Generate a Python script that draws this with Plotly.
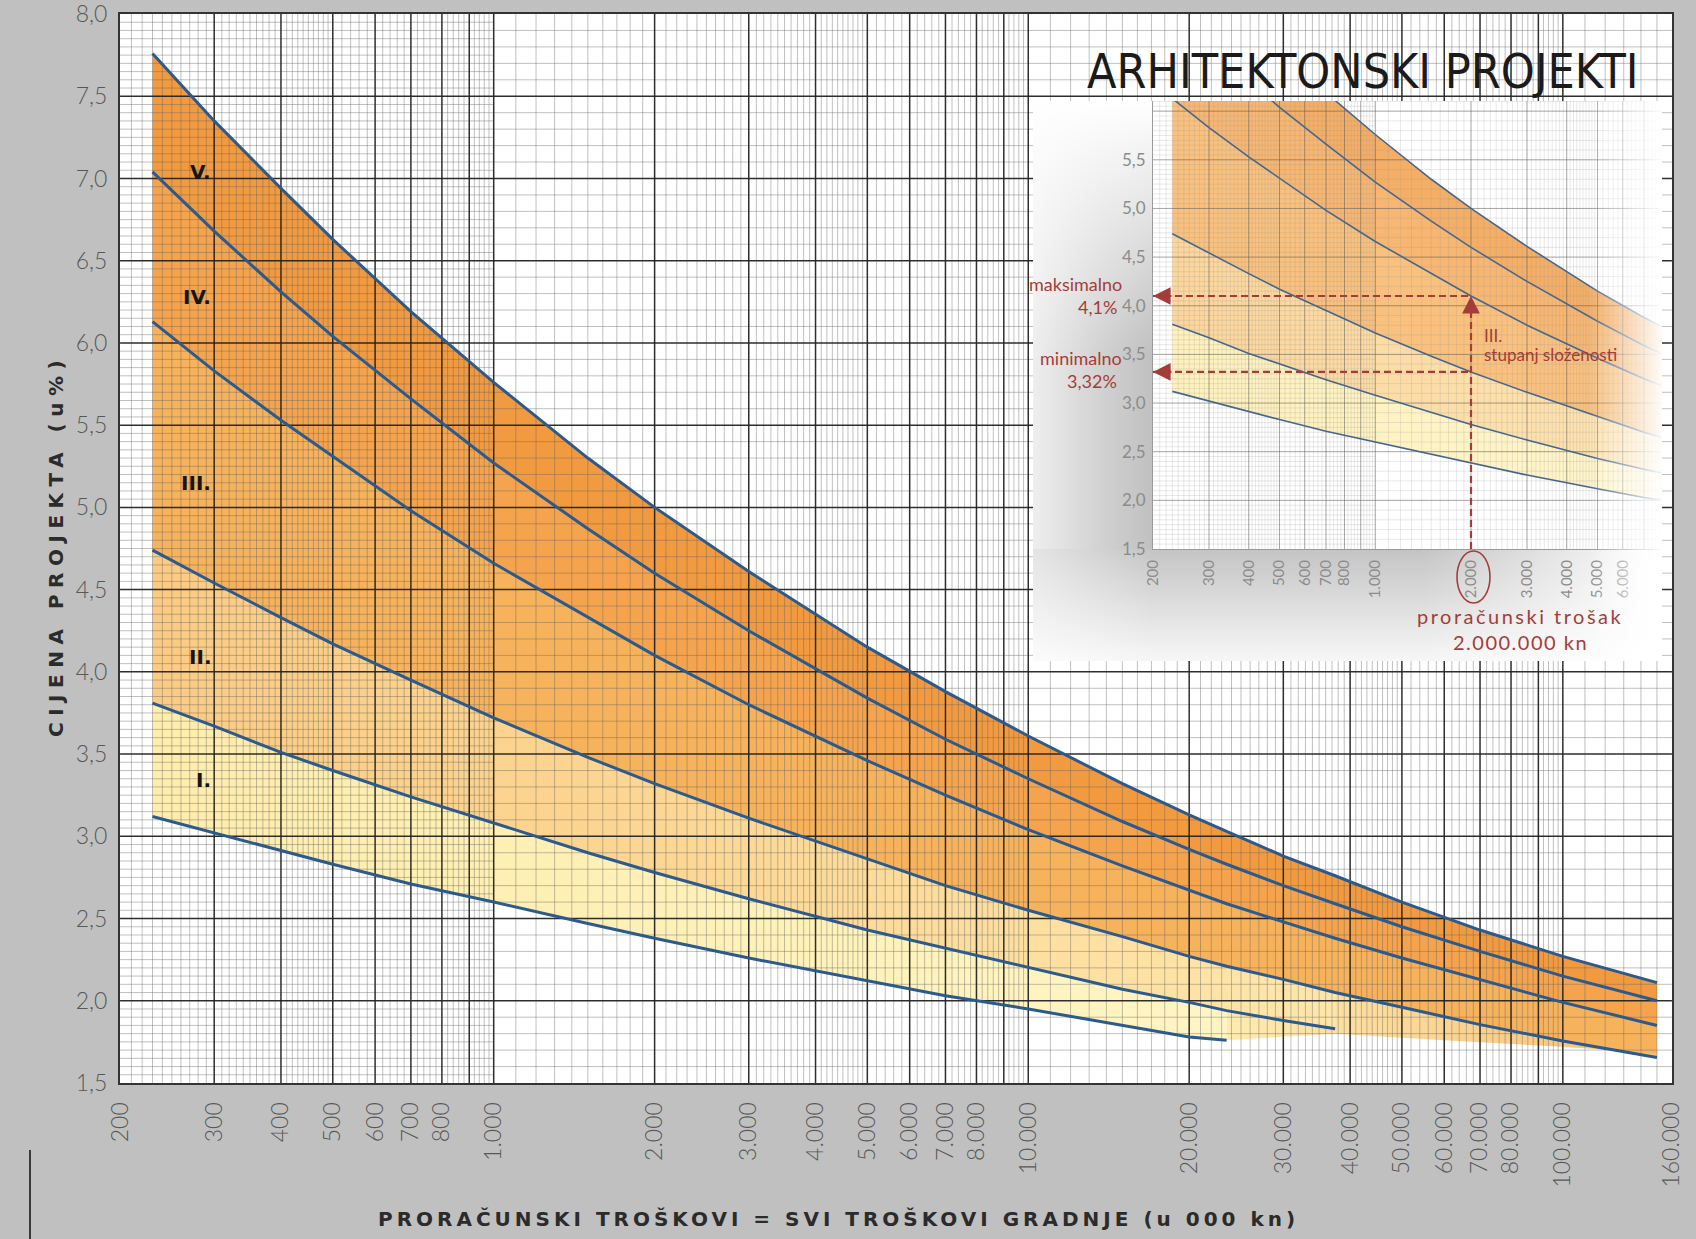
import math
import plotly.graph_objects as go

# ---------------- data ----------------
cost_k = [230, 300, 400, 500, 700, 1000, 1500, 2000, 3000, 5000, 7000, 10000,
          15000, 20000, 23500, 30000, 37500, 50000, 70000, 100000, 150000]
# upper limit of degree V
line_v_max = [7.76, 7.35, 6.94, 6.63, 6.19, 5.76, 5.30, 5.00, 4.61, 4.15, 3.88, 3.61,
              3.32, 3.13, 3.03, 2.88, 2.76, 2.60, 2.43, 2.27, 2.11]
# IV / V boundary
line_iv_max = [7.04, 6.68, 6.31, 6.04, 5.66, 5.27, 4.87, 4.60, 4.25, 3.84, 3.59, 3.35,
               3.09, 2.92, 2.83, 2.70, 2.59, 2.45, 2.30, 2.15, 2.00]
# III / IV boundary
line_iii_max = [6.13, 5.83, 5.53, 5.31, 4.98, 4.66, 4.33, 4.10, 3.80, 3.46, 3.25, 3.04,
                2.82, 2.67, 2.59, 2.48, 2.38, 2.26, 2.13, 1.99, 1.85]
# II / III boundary
line_ii_max = [4.74, 4.54, 4.33, 4.17, 3.95, 3.72, 3.48, 3.32, 3.11, 2.86, 2.70, 2.55,
               2.39, 2.27, 2.21, 2.13, 2.05, 1.96, 1.855, 1.755, 1.655]
# I / II boundary (ends at 37.500)
line_i_max = [3.81, 3.67, 3.51, 3.40, 3.24, 3.08, 2.90, 2.78, 2.62, 2.43, 2.32, 2.20,
              2.07, 1.99, 1.94, 1.88, 1.83]
# lower limit of degree I (ends at 23.500)
line_i_min = [3.12, 3.02, 2.91, 2.83, 2.71, 2.60, 2.47, 2.38, 2.26, 2.12, 2.03, 1.95,
              1.85, 1.78, 1.76]
# lower edge of the coloured area after the lowest line stops
fade_edge_cost = [23500, 37500, 60000, 100000, 150000]
fade_edge_pct = [1.76, 1.80, 1.76, 1.72, 1.68]

band_names = ["V.", "IV.", "III.", "II.", "I."]
band_label_pct = [7.04, 6.28, 5.15, 4.09, 3.34]
band_label_cost = 298

x_tick_vals = [200, 300, 400, 500, 600, 700, 800, 1000, 2000, 3000, 4000, 5000, 6000,
               7000, 8000, 10000, 20000, 30000, 40000, 50000, 60000, 70000, 80000,
               100000, 160000]
x_tick_text = ["200", "300", "400", "500", "600", "700", "800", "1.000", "2.000", "3.000",
               "4.000", "5.000", "6.000", "7.000", "8.000", "10.000", "20.000", "30.000",
               "40.000", "50.000", "60.000", "70.000", "80.000", "100.000", "160.000"]
y_tick_vals = [1.5, 2.0, 2.5, 3.0, 3.5, 4.0, 4.5, 5.0, 5.5, 6.0, 6.5, 7.0, 7.5, 8.0]
y_tick_text = ["1,5", "2,0", "2,5", "3,0", "3,5", "4,0", "4,5", "5,0", "5,5", "6,0",
               "6,5", "7,0", "7,5", "8,0"]

inset_x_tick_vals = [200, 300, 400, 500, 600, 700, 800, 1000, 2000, 3000, 4000, 5000, 6000]
inset_x_tick_text = ["200", "300", "400", "500", "600", "700", "800", "1.000", "2.000",
                     "3.000", "4.000", "5.000", "6.000"]
inset_y_tick_vals = [1.5, 2.0, 2.5, 3.0, 3.5, 4.0, 4.5, 5.0, 5.5]
inset_y_tick_text = ["1,5", "2,0", "2,5", "3,0", "3,5", "4,0", "4,5", "5,0", "5,5"]

example_cost = 2000
example_max = 4.1
example_min = 3.32

# ---------------- geometry ----------------
W, H = 1696, 1239
ML, MR, MT, MB = 120, 24, 14, 156
PW, PH = W - ML - MR, H - MT - MB


def pxx(xp):
    return (xp - ML) / PW


def pxy(yp):
    return (H - MB - yp) / PH


X_MIN, X_MAX = 200, 160000
Y_MIN, Y_MAX = 1.5, 8.0

PANEL_L, PANEL_T, PANEL_R, PANEL_B = 1033, 101, 1662, 661
IN_L, IN_B = 1153, 549
IN_DECADE, IN_UNIT = 318.0, 97.3
IN_XMAX_LOG = math.log10(200) + (PANEL_R - IN_L) / IN_DECADE
IN_YMAX = 1.5 + (IN_B - PANEL_T) / IN_UNIT
FADE_L = 1588

TICK_FONT = "Lato, 'Open Sans', sans-serif"
BOLD_FONT = "'DejaVu Sans', sans-serif"
RED = "#A43D38"

fig = go.Figure()


def seg_trace(segs, color, width, xa, ya):
    xs, ys = [], []
    for (x0, x1, y0, y1) in segs:
        xs += [x0, x1, None]
        ys += [y0, y1, None]
    return go.Scatter(x=xs, y=ys, mode="lines", line=dict(color=color, width=width),
                      hoverinfo="skip", showlegend=False, xaxis=xa, yaxis=ya)


def grid_traces(xlo, xhi, ylo, yhi, xa, ya, major_c, minor_c, major_w, minor_w):
    major, minor = [], []
    for dec in (100, 1000, 10000, 100000):
        for m in range(10, 100):
            if m >= 50 and m % 2:
                continue  # coarser subdivision in the upper half of each decade
            v = dec * m // 10
            if xlo < v < xhi:
                if m % 10 == 0:
                    major.append((v, v, ylo, yhi))
                else:
                    minor.append((v, v, ylo, yhi))
    for h in range(150, 801, 5):
        val = h / 100.0
        if not (ylo < val < yhi):
            continue
        if h % 50 == 0:
            major.append((xlo, xhi, val, val))
        elif h % 10 == 0:
            minor.append((xlo, xhi, val, val))
        else:
            minor.append((xlo, min(1000, xhi), val, val))
    return [seg_trace(minor, minor_c, minor_w, xa, ya),
            seg_trace(major, major_c, major_w, xa, ya)]


def poly(ux, uy, lx, ly):
    return list(ux) + list(lx)[::-1] + [ux[0]], list(uy) + list(ly)[::-1] + [uy[0]]


n_ii = len(line_i_max)
n_i = len(line_i_min)

bands = [
    (poly(cost_k, line_v_max, cost_k, line_iv_max), "#F29A3F", None),
    (poly(cost_k, line_iv_max, cost_k, line_iii_max), "#F5A44D", None),
    (poly(cost_k, line_iii_max, cost_k, line_ii_max), "#F7B25C", None),
    (poly(cost_k[:n_ii], line_ii_max[:n_ii], cost_k[:n_ii], line_i_max), None,
     [[0, "#FBCB83"], [1, "#FEE6AA"]]),
    (poly(cost_k[:n_i], line_i_max[:n_i], cost_k[:n_i], line_i_min), None,
     [[0, "#FEEDAC"], [1, "#FFF5C4"]]),
    (poly(cost_k[n_i - 1:n_ii] + cost_k[n_ii - 1:],
          line_i_max[n_i - 1:n_ii] + line_ii_max[n_ii - 1:],
          fade_edge_cost, fade_edge_pct), None,
     [[0, "#FEEBB0"], [1, "#F8BE76"]]),
]


def add_bands(xa, ya, opacity):
    for (xs, ys), col, grad in bands:
        kw = dict(x=xs, y=ys, mode="lines", fill="toself", line=dict(width=0),
                  opacity=opacity, hoverinfo="skip", showlegend=False, xaxis=xa, yaxis=ya)
        if grad is None:
            kw["fillcolor"] = col
        else:
            kw["fillgradient"] = dict(type="horizontal", colorscale=grad)
        fig.add_trace(go.Scatter(**kw))


def add_lines(xa, ya, color, width):
    series = [(cost_k, line_v_max), (cost_k, line_iv_max), (cost_k, line_iii_max),
              (cost_k, line_ii_max), (cost_k[:n_ii], line_i_max), (cost_k[:n_i], line_i_min)]
    for xs, ys in series:
        fig.add_trace(go.Scatter(x=xs, y=ys, mode="lines", line=dict(color=color, width=width),
                                 hoverinfo="skip", showlegend=False, xaxis=xa, yaxis=ya))


# ---------------- main chart ----------------
add_bands("x", "y", 1.0)
for t in grid_traces(X_MIN, X_MAX, Y_MIN, Y_MAX, "x", "y",
                     "rgba(35,35,35,0.95)", "rgba(100,100,100,0.45)", 1.5, 0.9):
    fig.add_trace(t)
add_lines("x", "y", "#2C5A8C", 3.0)

# ---------------- inset panel (x2/y2: 0..1 box) ----------------
g = (IN_L - PANEL_L) / (PANEL_R - PANEL_L)
b = (PANEL_B - IN_B) / (PANEL_B - PANEL_T)


def rect_trace(x0, x1, y0, y1, xa, ya, color=None, grad=None, gtype="horizontal"):
    kw = dict(x=[x0, x1, x1, x0, x0], y=[y0, y0, y1, y1, y0], mode="lines", fill="toself",
              line=dict(width=0), hoverinfo="skip", showlegend=False, xaxis=xa, yaxis=ya)
    if grad is None:
        kw["fillcolor"] = color
    else:
        kw["fillgradient"] = dict(type=gtype, colorscale=grad)
    return go.Scatter(**kw)


fig.add_trace(rect_trace(0, 1, 0, 1, "x2", "y2", color="white"))
fig.add_trace(rect_trace(0, g, b, 1, "x2", "y2",
                         grad=[[0, "rgb(238,238,238)"], [0.6, "rgb(208,208,208)"],
                               [1, "rgb(192,192,192)"]]))
fig.add_trace(rect_trace(0, g, 0.55, 1, "x2", "y2",
                         grad=[[0, "rgba(255,255,255,0)"], [1, "rgba(255,255,255,1)"]],
                         gtype="vertical"))
fig.add_trace(rect_trace(0, 1, 0, b, "x2", "y2",
                         grad=[[0, "rgb(247,247,247)"], [1, "rgb(196,196,196)"]],
                         gtype="vertical"))
fig.add_trace(rect_trace(0, g, 0, b, "x2", "y2",
                         grad=[[0, "rgba(255,255,255,0.55)"], [1, "rgba(255,255,255,0)"]]))
fig.add_trace(rect_trace(0.62, 1, 0, b, "x2", "y2",
                         grad=[[0, "rgba(255,255,255,0)"], [1, "rgba(255,255,255,1)"]]))

# ---------------- inset chart (x3/y3) ----------------
add_bands("x3", "y3", 0.8)
for t in grid_traces(200, 10 ** IN_XMAX_LOG, 1.5, IN_YMAX, "x3", "y3",
                     "rgba(90,90,90,0.55)", "rgba(150,150,150,0.32)", 1.0, 0.7):
    fig.add_trace(t)
add_lines("x3", "y3", "#46668E", 1.6)

dash = dict(color=RED, width=2.2, dash="7px,4px")
fig.add_trace(go.Scatter(x=[example_cost, example_cost], y=[1.5, example_max], mode="lines",
                         line=dash, hoverinfo="skip", showlegend=False, xaxis="x3", yaxis="y3"))
fig.add_trace(go.Scatter(x=[200, example_cost], y=[example_max, example_max], mode="lines",
                         line=dash, hoverinfo="skip", showlegend=False, xaxis="x3", yaxis="y3"))
fig.add_trace(go.Scatter(x=[200, example_cost], y=[example_min, example_min], mode="lines",
                         line=dash, hoverinfo="skip", showlegend=False, xaxis="x3", yaxis="y3"))

# ---------------- right fade of the inset (x4/y4) ----------------
fig.add_trace(rect_trace(0, 1, 0, 1, "x4", "y4",
                         grad=[[0, "rgba(255,255,255,0)"], [1, "rgba(255,255,255,0.95)"]]))

# ---------------- layout ----------------
hidden = dict(visible=False, range=[0, 1], fixedrange=True, automargin=False)
eps = 1e-4
tick_main = dict(family=TICK_FONT, size=23, color="#585858", weight=300)
fig.update_layout(
    width=W, height=H,
    margin=dict(l=ML, r=MR, t=MT, b=MB, autoexpand=False),
    paper_bgcolor="#C0C0C0",
    plot_bgcolor="rgba(0,0,0,0)",
    showlegend=False,
    hovermode=False,
    xaxis=dict(type="log", range=[math.log10(X_MIN) - eps, math.log10(X_MAX) + eps],
               domain=[0, 1], anchor="y", automargin=False,
               tickvals=x_tick_vals, ticktext=x_tick_text, tickangle=-90,
               tickfont=tick_main,
               ticks="", ticklabelstandoff=8, ticklabeloverflow="allow",
               showgrid=False, zeroline=False,
               showline=True, mirror=True, linecolor="#333333", linewidth=2),
    yaxis=dict(range=[Y_MIN - eps, Y_MAX + eps], domain=[0, 1], anchor="x", automargin=False,
               tickvals=y_tick_vals, ticktext=y_tick_text,
               tickfont=tick_main,
               ticks="", ticklabelstandoff=6, ticklabeloverflow="allow",
               showgrid=False, zeroline=False,
               showline=True, mirror=True, linecolor="#333333", linewidth=2),
    xaxis2=dict(domain=[pxx(PANEL_L), pxx(PANEL_R)], anchor="y2", **hidden),
    yaxis2=dict(domain=[pxy(PANEL_B), pxy(PANEL_T)], anchor="x2", **hidden),
    xaxis3=dict(type="log", range=[math.log10(200), IN_XMAX_LOG],
                domain=[pxx(IN_L), pxx(PANEL_R)], anchor="y3", automargin=False,
                tickvals=inset_x_tick_vals, ticktext=inset_x_tick_text, tickangle=-90,
                tickfont=dict(family=TICK_FONT, size=15, color="#8c8c8c"),
                ticks="", ticklabelstandoff=4, showgrid=False, zeroline=False,
                showline=True, linecolor="#9a9a9a", linewidth=1, fixedrange=True),
    yaxis3=dict(range=[1.5, IN_YMAX], domain=[pxy(IN_B), pxy(PANEL_T)], anchor="x3",
                automargin=False,
                tickvals=inset_y_tick_vals, ticktext=inset_y_tick_text,
                tickfont=dict(family=TICK_FONT, size=17, color="#8c8c8c"),
                ticks="", ticklabelstandoff=3, showgrid=False, zeroline=False,
                showline=True, linecolor="#9a9a9a", linewidth=1, fixedrange=True),
    xaxis4=dict(domain=[pxx(FADE_L), pxx(PANEL_R)], anchor="y4", **hidden),
    yaxis4=dict(domain=[pxy(PANEL_B), pxy(PANEL_T)], anchor="x4", **hidden),
)

shapes = [
    dict(type="rect", xref="paper", yref="paper", x0=0, x1=1, y0=0, y1=1,
         fillcolor="white", line=dict(width=0), layer="below"),
    dict(type="circle", xref="paper", yref="paper", x0=pxx(1457), x1=pxx(1490),
         y0=pxy(603), y1=pxy(551), line=dict(color=RED, width=1.6), layer="above"),
    dict(type="line", xref="paper", yref="paper", x0=pxx(30), x1=pxx(30),
         y0=pxy(1150), y1=pxy(1239), line=dict(color="#3a3a3a", width=2)),
]
fig.update_layout(shapes=shapes)

ann = []
# title
ann.append(dict(text="ARHITEKTONSKI PROJEKTI", xref="paper", yref="paper",
                x=pxx(1641), y=pxy(71), xanchor="right", yanchor="middle", showarrow=False,
                font=dict(family="'Liberation Sans Narrow', 'DejaVu Sans Condensed', sans-serif",
                          size=48, color="#1b1b1b")))
# axis titles (letter-spaced)
ann.append(dict(text='<span style="letter-spacing:6.5px">CIJENA PROJEKTA (u%)</span>',
                xref="paper", yref="paper",
                x=pxx(56), y=pxy(546), textangle=-90, showarrow=False,
                xanchor="center", yanchor="middle",
                font=dict(family=BOLD_FONT, size=20, color="#2b2b2b", weight="bold")))
ann.append(dict(text='<span style="letter-spacing:4px">PRORAČUNSKI TROŠKOVI = SVI TROŠKOVI '
                     'GRADNJE (u 000 kn)</span>',
                xref="paper", yref="paper", x=pxx(838), y=pxy(1219), showarrow=False,
                xanchor="center", yanchor="middle",
                font=dict(family=BOLD_FONT, size=20, color="#2b2b2b", weight="bold")))
# band labels
for name, pct in zip(band_names, band_label_pct):
    ann.append(dict(text=name, xref="x", yref="y", x=math.log10(band_label_cost), y=pct,
                    xanchor="right", yanchor="middle", showarrow=False,
                    font=dict(family=BOLD_FONT, size=20, color="#151515", weight="bold")))
# arrow heads of the example
head = dict(text="", showarrow=True, arrowhead=2, arrowsize=1.6, arrowwidth=2.2,
            arrowcolor=RED, xref="x3", yref="y3", standoff=0)
ann.append(dict(head, x=math.log10(200), y=example_max, ax=20, ay=0))
ann.append(dict(head, x=math.log10(200), y=example_min, ax=20, ay=0))
ann.append(dict(head, x=math.log10(example_cost), y=example_max, ax=0, ay=20))
# red texts
red_f = dict(family=TICK_FONT, size=18, color=RED)
ann.append(dict(text="maksimalno", xref="paper", yref="paper", x=pxx(1124), y=pxy(284),
                xanchor="right", yanchor="middle", showarrow=False, font=red_f))
ann.append(dict(text="4,1%", xref="paper", yref="paper", x=pxx(1119), y=pxy(307),
                xanchor="right", yanchor="middle", showarrow=False, font=red_f))
ann.append(dict(text="minimalno", xref="paper", yref="paper", x=pxx(1124), y=pxy(358),
                xanchor="right", yanchor="middle", showarrow=False, font=red_f))
ann.append(dict(text="3,32%", xref="paper", yref="paper", x=pxx(1119), y=pxy(381),
                xanchor="right", yanchor="middle", showarrow=False, font=red_f))
ann.append(dict(text="III.", xref="paper", yref="paper", x=pxx(1482), y=pxy(335),
                xanchor="left", yanchor="middle", showarrow=False,
                font=dict(family=TICK_FONT, size=17, color=RED)))
ann.append(dict(text="stupanj složenosti", xref="paper", yref="paper", x=pxx(1482), y=pxy(355),
                xanchor="left", yanchor="middle", showarrow=False,
                font=dict(family=TICK_FONT, size=17, color=RED)))
ann.append(dict(text='<span style="letter-spacing:2.5px">proračunski trošak</span>',
                xref="paper", yref="paper", x=pxx(1520), y=pxy(616),
                xanchor="center", yanchor="middle", showarrow=False,
                font=dict(family=TICK_FONT, size=20, color=RED)))
ann.append(dict(text='<span style="letter-spacing:1.5px">2.000.000 kn</span>',
                xref="paper", yref="paper", x=pxx(1520), y=pxy(642),
                xanchor="center", yanchor="middle", showarrow=False,
                font=dict(family=TICK_FONT, size=20, color=RED)))
fig.update_layout(annotations=ann)

fig.write_html("out.html", config={"displayModeBar": False},
               post_script="document.body.style.margin='0px';")
